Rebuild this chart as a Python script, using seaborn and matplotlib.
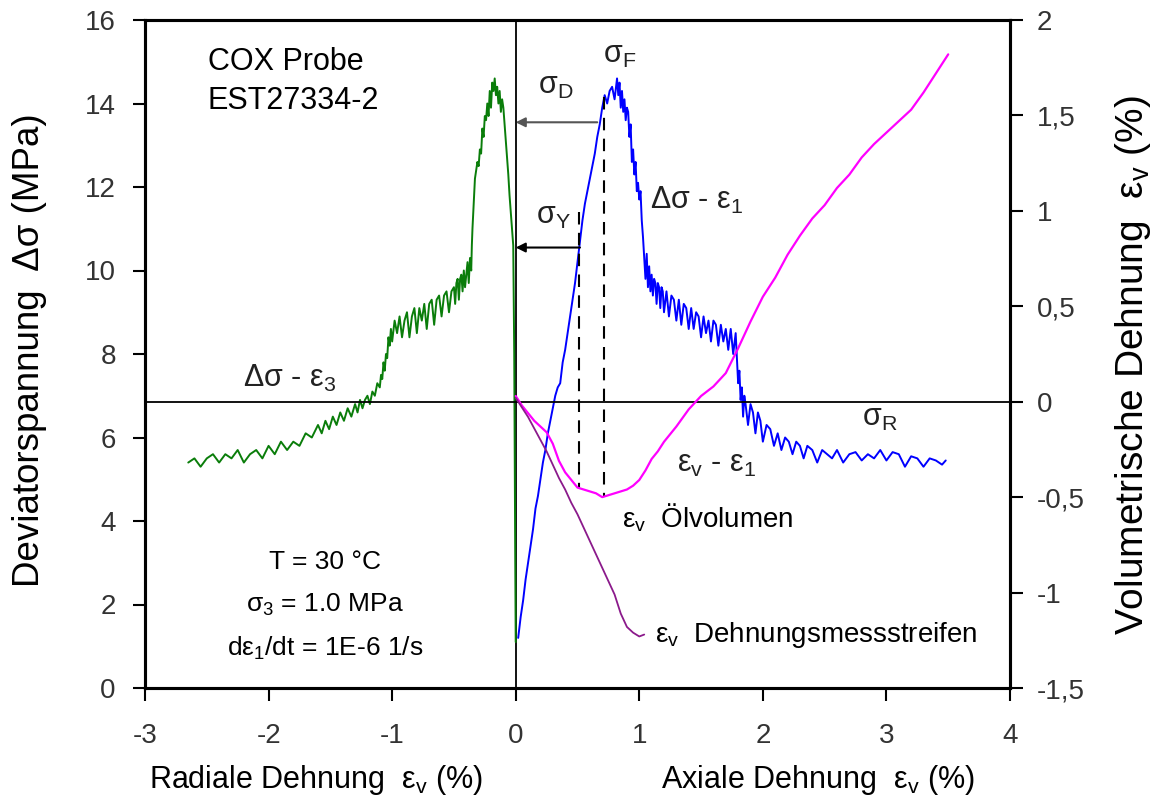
import matplotlib
matplotlib.use("Agg")
import matplotlib.pyplot as plt
import seaborn as sns

# ---------------- data ----------------
# Δσ - ε3 (radial strain, left axis MPa)
green_x = [0.0, -0.002, -0.004, -0.006, -0.008, -0.010, -0.012, -0.015, -0.018, -0.02,
           -0.03, -0.04, -0.05, -0.06, -0.07, -0.08, -0.09, -0.10, -0.11, -0.12,
           -0.13, -0.14, -0.15, -0.16, -0.17, -0.18, -0.19, -0.20, -0.21, -0.22,
           -0.23, -0.24, -0.25, -0.26, -0.27, -0.28, -0.29, -0.30, -0.31, -0.32,
           -0.33, -0.34, -0.35, -0.355, -0.36,
           -0.37, -0.38, -0.39, -0.40, -0.41, -0.42, -0.43, -0.44, -0.45, -0.46,
           -0.47, -0.48, -0.49, -0.50, -0.52, -0.54, -0.56, -0.58, -0.60, -0.62,
           -0.64, -0.66, -0.68, -0.70, -0.72, -0.74, -0.76, -0.78, -0.80, -0.82,
           -0.84, -0.86, -0.88, -0.90, -0.92, -0.94, -0.96, -0.98, -1.00,
           -1.01, -1.02, -1.03, -1.04, -1.05, -1.06, -1.07, -1.08, -1.09, -1.10,
           -1.12, -1.14, -1.16, -1.18, -1.20, -1.22, -1.24, -1.26, -1.28, -1.30,
           -1.33, -1.36, -1.39, -1.42, -1.45, -1.48, -1.51, -1.54, -1.57, -1.60,
           -1.65, -1.70, -1.75, -1.80, -1.85, -1.90, -1.95, -2.00, -2.05, -2.10,
           -2.15, -2.20, -2.25, -2.30, -2.35, -2.40, -2.45, -2.50, -2.55, -2.60, -2.65]
green_y = [1.1, 2.0, 3.2, 4.5, 5.8, 7.0, 8.0, 9.0, 9.9, 10.6,
           11.0, 11.4, 11.8, 12.3, 12.7, 13.1, 13.5, 13.9, 14.1, 13.8,
           14.3, 14.0, 14.4, 14.2, 14.6, 14.3, 14.5, 13.9, 14.3, 13.7,
           14.0, 13.6, 13.7, 13.2, 13.4, 12.8, 12.9, 12.5, 12.6, 12.4,
           12.2, 11.6, 11.0, 10.6, 10.0,
           10.3, 9.7, 10.2, 9.9, 9.6, 10.0, 9.5, 9.9, 9.8, 9.3,
           9.8, 9.7, 9.2, 9.6, 9.5, 9.0, 9.5, 9.4, 8.9, 9.4,
           9.3, 8.7, 9.3, 9.2, 8.6, 9.2, 8.8, 9.1, 8.5, 9.1,
           8.9, 8.4, 9.0, 8.8, 8.4, 8.9, 8.5, 8.8, 8.3,
           8.6, 8.2, 8.4, 7.9, 8.0, 7.6, 7.8, 7.4, 7.5, 7.2,
           7.3, 7.0, 7.1, 6.8, 7.0, 6.9, 6.7, 6.9, 6.6, 6.8,
           6.5, 6.7, 6.4, 6.6, 6.3, 6.5, 6.2, 6.4, 6.1, 6.3,
           6.0, 6.1, 5.8, 5.9, 5.7, 5.9, 5.6, 5.8, 5.5, 5.7,
           5.6, 5.4, 5.7, 5.5, 5.6, 5.4, 5.6, 5.5, 5.3, 5.5, 5.4]

# Δσ - ε1 (axial strain, left axis MPa)
blue_x = [0.02, 0.04, 0.06, 0.08, 0.10, 0.12, 0.14, 0.16, 0.18, 0.20,
          0.22, 0.24, 0.26, 0.28, 0.30, 0.32, 0.34, 0.36, 0.38, 0.40,
          0.42, 0.44, 0.46, 0.48, 0.50, 0.52, 0.54, 0.56, 0.58, 0.60,
          0.62, 0.64, 0.66, 0.68, 0.70, 0.72, 0.74, 0.76, 0.78, 0.80, 0.82,
          0.83, 0.84, 0.85, 0.86, 0.87, 0.88, 0.89, 0.90, 0.91, 0.92,
          0.93, 0.94, 0.95, 0.96, 0.97, 0.98, 0.99, 1.00, 1.01, 1.02,
          1.03, 1.04, 1.05,
          1.06, 1.07, 1.08, 1.09, 1.10, 1.11, 1.12, 1.13, 1.14, 1.15,
          1.16, 1.17, 1.18, 1.19, 1.20, 1.22, 1.24, 1.26, 1.28, 1.30,
          1.32, 1.34, 1.36, 1.38, 1.40, 1.42, 1.44, 1.46, 1.48, 1.50,
          1.52, 1.54, 1.56, 1.58, 1.60, 1.62, 1.64, 1.66, 1.68, 1.70,
          1.72, 1.74, 1.76, 1.78,
          1.79, 1.80, 1.81, 1.82, 1.83, 1.84, 1.85, 1.86, 1.88, 1.90,
          1.92, 1.94, 1.96, 1.98, 2.00, 2.03, 2.06, 2.09, 2.12, 2.15,
          2.18, 2.21, 2.24, 2.27, 2.30, 2.33, 2.36, 2.40, 2.44, 2.48,
          2.52, 2.56, 2.60, 2.65, 2.70, 2.75, 2.80, 2.85, 2.90, 2.95,
          3.00, 3.05, 3.10, 3.15, 3.20, 3.25, 3.30, 3.35, 3.40, 3.45, 3.48]
blue_y = [1.2, 1.7, 2.1, 2.6, 3.0, 3.4, 3.8, 4.3, 4.6, 5.0,
          5.4, 5.7, 6.1, 6.4, 6.7, 7.0, 7.2, 7.3, 7.8, 8.1,
          8.5, 8.9, 9.3, 9.7, 10.2, 10.7, 11.2, 11.6, 11.9, 12.2,
          12.5, 12.8, 13.2, 13.5, 13.9, 14.2, 14.0, 14.3, 14.4, 14.1, 14.6,
          14.2, 14.5, 13.9, 14.3, 13.8, 14.1, 13.6, 13.9, 13.8, 13.2,
          13.5, 12.6, 12.9, 12.3, 12.6, 11.9, 12.1, 11.7, 11.9, 11.2,
          10.8, 10.3, 9.8,
          10.4, 9.6, 10.1, 9.5, 9.9, 9.4, 9.8, 9.7, 9.2, 9.7,
          9.6, 9.1, 9.6, 9.5, 9.0, 9.5, 8.9, 9.4, 9.3, 8.8,
          9.3, 8.7, 9.2, 9.1, 8.6, 9.1, 8.6, 9.0, 8.9, 8.4,
          8.9, 8.5, 8.8, 8.3, 8.8, 8.7, 8.2, 8.7, 8.3, 8.6,
          8.1, 8.6, 8.0, 8.5,
          7.9, 7.3, 7.6, 6.9, 7.2, 6.5, 7.0, 6.8, 6.3, 6.8,
          6.6, 6.1, 6.6, 6.4, 5.9, 6.3, 6.2, 5.8, 6.1, 5.7,
          6.0, 5.9, 5.6, 5.9, 5.8, 5.5, 5.8, 5.7, 5.4, 5.7,
          5.6, 5.5, 5.7, 5.4, 5.6, 5.65, 5.45, 5.6, 5.5, 5.7,
          5.45, 5.65, 5.6, 5.3, 5.55, 5.5, 5.3, 5.5, 5.45, 5.35, 5.45]

# εv - ε1, oil volume (right axis %)
magenta_x = [0.0, 0.05, 0.10, 0.15, 0.20, 0.25, 0.30, 0.35, 0.40, 0.45,
             0.50, 0.55, 0.60, 0.65, 0.70, 0.75, 0.80, 0.85, 0.90, 0.95,
             1.00, 1.05, 1.10, 1.15, 1.20, 1.30, 1.40, 1.50, 1.60, 1.70,
             1.80, 1.90, 2.00, 2.10, 2.20, 2.30, 2.40, 2.50, 2.60, 2.70,
             2.80, 2.90, 3.00, 3.10, 3.20, 3.30, 3.40, 3.50]
magenta_y = [0.03, -0.02, -0.06, -0.10, -0.13, -0.16, -0.22, -0.31, -0.37, -0.41,
             -0.45, -0.46, -0.47, -0.48, -0.50, -0.49, -0.48, -0.47, -0.46, -0.44,
             -0.41, -0.36, -0.30, -0.26, -0.21, -0.13, -0.04, 0.03, 0.08, 0.15,
             0.28, 0.42, 0.55, 0.65, 0.77, 0.87, 0.96, 1.03, 1.12, 1.19,
             1.28, 1.35, 1.41, 1.47, 1.53, 1.62, 1.72, 1.82]

# εv strain gauges (right axis %)
purple_x = [0.0, 0.05, 0.10, 0.15, 0.20, 0.25, 0.30, 0.35, 0.40, 0.45,
            0.50, 0.55, 0.60, 0.65, 0.70, 0.75, 0.80, 0.85, 0.90, 0.95,
            1.00, 1.04]
purple_y = [0.02, -0.03, -0.08, -0.14, -0.20, -0.26, -0.33, -0.40, -0.46, -0.53,
            -0.59, -0.66, -0.73, -0.80, -0.87, -0.94, -1.01, -1.11, -1.18, -1.21,
            -1.23, -1.22]

x_ticks = [-3, -2, -1, 0, 1, 2, 3, 4]
left_ticks = [0, 2, 4, 6, 8, 10, 12, 14, 16]
right_ticks = [-1.5, -1, -0.5, 0, 0.5, 1, 1.5, 2]
right_labels = ["-1,5", "-1", "-0,5", "0", "0,5", "1", "1,5", "2"]

# ---------------- style ----------------
sns.set_style("ticks")
plt.rcParams['font.family'] = ['Liberation Sans', 'DejaVu Sans']
plt.rcParams['mathtext.fontset'] = 'custom'
plt.rcParams['mathtext.rm'] = 'Liberation Sans'
plt.rcParams['mathtext.it'] = 'Liberation Sans:italic'
plt.rcParams['mathtext.default'] = 'regular'

W, H = 1156, 800
fig = plt.figure(figsize=(W / 100, H / 100), dpi=100)
ax = fig.add_axes([145 / W, 1 - 688 / H, (1010 - 145) / W, (688 - 20) / H])
ax2 = ax.twinx()

RLIM = (-1.5, 2.0)
LLIM = (0, 16)

def r2l(v):
    return (v - RLIM[0]) / (RLIM[1] - RLIM[0]) * (LLIM[1] - LLIM[0]) + LLIM[0]

# reference lines
ax.axvline(0, color='black', lw=1.3, zorder=1)
ax2.axhline(0, color='black', lw=1.3, zorder=1)

sns.lineplot(x=green_x, y=green_y, ax=ax, sort=False, estimator=None,
             color='#0a7d0a', lw=1.4, zorder=3)
sns.lineplot(x=blue_x, y=blue_y, ax=ax, sort=False, estimator=None,
             color='#0000ff', lw=1.4, zorder=3)
sns.lineplot(x=magenta_x, y=magenta_y, ax=ax2, sort=False, estimator=None,
             color='#ff00ff', lw=1.6, zorder=3)
sns.lineplot(x=purple_x, y=purple_y, ax=ax2, sort=False, estimator=None,
             color='#8b1a8b', lw=1.3, zorder=3)

ax.set_xlim(-3, 4)
ax.set_ylim(*LLIM)
ax2.set_ylim(*RLIM)
ax.set_xticks(x_ticks)
ax.set_xticklabels([str(t) for t in x_ticks])
ax.set_yticks(left_ticks)
ax.set_yticklabels([str(t) for t in left_ticks])
ax2.set_yticks(right_ticks)
ax2.set_yticklabels(right_labels)
ax.set_xlabel("")
ax.set_ylabel("")
ax2.set_ylabel("")

tick_col = '#333333'
ax.tick_params(axis='x', direction='out', length=9, width=1.5, pad=16,
               labelsize=20, labelcolor=tick_col, color='black')
ax.tick_params(axis='y', direction='out', length=9, width=1.5, pad=12,
               labelsize=20, labelcolor=tick_col, color='black')
ax2.tick_params(axis='y', direction='out', length=9, width=1.5, pad=10,
                labelsize=20, labelcolor=tick_col, color='black')
for a in (ax, ax2):
    for s in a.spines.values():
        s.set_linewidth(2.2)
        s.set_color('black')
        s.set_visible(True)

# arrows and dashed markers
ax.annotate("", xy=(0.0, 13.55), xytext=(0.66, 13.55),
            arrowprops=dict(arrowstyle='-|>', color='#555555', lw=1.5,
                            mutation_scale=14, shrinkA=0, shrinkB=0), zorder=4)
ax.annotate("", xy=(0.0, 10.55), xytext=(0.52, 10.55),
            arrowprops=dict(arrowstyle='-|>', color='black', lw=1.5,
                            mutation_scale=14, shrinkA=0, shrinkB=0), zorder=4)
ax.plot([0.51, 0.51], [11.4, r2l(-0.45)], color='black', lw=1.5,
        dashes=(6, 4), zorder=4)
ax.plot([0.715, 0.715], [14.15, r2l(-0.50)], color='black', lw=1.5,
        dashes=(6, 4), zorder=4)

def ftxt(px, py, s, size=20, ha='left', va='center', color='black', **kw):
    fig.text(px / W, 1 - py / H, s, fontsize=size, ha=ha, va=va, color=color, **kw)

txt_col = '#222222'
ftxt(208, 62, "COX Probe", size=22)
ftxt(208, 101, "EST27334-2", size=22)
ftxt(325, 562, "T = 30 °C", size=19, ha='center')
ftxt(325, 605, r"$\mathregular{σ_3}$ = 1.0 MPa", size=19, ha='center')
ftxt(325, 648, r"d$\mathregular{ε_1}$/dt = 1E-6 1/s", size=19, ha='center')

ftxt(620, 55, r"$\mathregular{σ_F}$", size=22, ha='center', color=txt_col)
ftxt(556, 86, r"$\mathregular{σ_D}$", size=22, ha='center', color=txt_col)
ftxt(553, 216, r"$\mathregular{σ_Y}$", size=22, ha='center', color=txt_col)
ftxt(650, 200, r"$\mathregular{Δσ\ \text{-}\ ε_1}$", size=22, color=txt_col)
ftxt(243, 378, r"$\mathregular{Δσ\ \text{-}\ ε_3}$", size=22, color=txt_col)
ftxt(880, 418, r"$\mathregular{σ_R}$", size=22, ha='center', color=txt_col)
ftxt(677, 464, r"$\mathregular{ε_v\ \text{-}\ ε_1}$", size=22, color=txt_col)
ftxt(622, 518, r"$\mathregular{ε_v}$  Ölvolumen", size=20)
ftxt(655, 635, r"$\mathregular{ε_v}$  Dehnungsmessstreifen", size=20)

# axis titles
ftxt(30, 350, r"Deviatorspannung  Δσ (MPa)", size=26.5, ha='center', rotation=90)
ftxt(1133, 365, r"Volumetrische Dehnung  $\mathregular{ε_v}$ (%)", size=28,
     ha='center', rotation=90)
ftxt(316, 780, r"Radiale Dehnung  $\mathregular{ε_v}$ (%)", size=22, ha='center')
ftxt(818, 780, r"Axiale Dehnung  $\mathregular{ε_v}$ (%)", size=22, ha='center')

fig.savefig("out.png", dpi=100)
